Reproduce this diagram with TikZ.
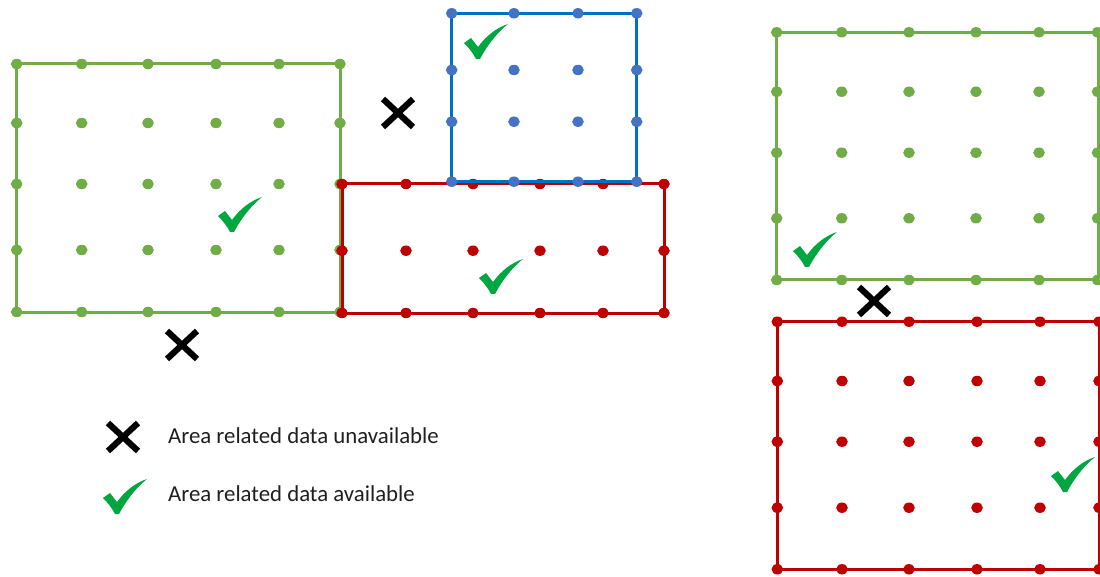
\documentclass[tikz,border=0pt]{standalone}
\usepackage{fontspec}
\setmainfont{Carlito}
\definecolor{grn}{HTML}{70AD47}
\definecolor{redc}{HTML}{C00000}
\definecolor{bluedot}{HTML}{4472C4}
\definecolor{blueline}{HTML}{0070C0}
\definecolor{tickc}{HTML}{00A640}
\tikzset{
  frame/.style={line width=3pt},
  checkmark/.pic={
    \fill[tickc] (-22,1) -- (-15,-4) -- (-8,5) .. controls (0,-6) and (10,-14) .. (22,-18)
      .. controls (12,-10) and (2,2) .. (-6,17) -- (-10,17) .. controls (-13,11) and (-17,6) .. (-22,1) -- cycle;
  },
  crossmark/.pic={
    \draw[line width=6.2pt] (-15,-14) -- (15,14) (-15,14) -- (15,-14);
  },
  legendtext/.style={anchor=base west, inner sep=0pt, font=\fontsize{22.8}{27}\selectfont, text=black!88}
}
\begin{document}
\begin{tikzpicture}[x=1pt,y=-1pt]
\useasboundingbox (0,0) rectangle (1100,577);
\clip (0,0) rectangle (1100,577);
% left green
\draw[grn,frame] (16.7,64) rectangle (340,312);
\foreach \x in {16.7,81.7,148,216,279,340}
  \foreach \y in {64,123,184,250,312}
    \fill[grn] (\x,\y) ellipse (5.8 and 5.2);
% red left
\draw[redc,frame] (342,184) rectangle (664,313);
\foreach \x in {342,406,473,540,603,664}
  \foreach \y in {184,250.7,313}
    \fill[redc] (\x,\y) ellipse (5.8 and 5.2);
% blue
\draw[blueline,frame] (451.7,13.3) rectangle (636.7,181.7);
\foreach \x in {451.7,514,578,636.7}
  \foreach \y in {13.3,70,121.7,181.7}
    \fill[bluedot] (\x,\y) ellipse (5.8 and 5.2);
% right green
\draw[grn,frame] (776.7,32.3) rectangle (1098.3,280);
\foreach \x in {776.7,841.7,909,976,1039,1097.5}
  \foreach \y in {32.3,91.7,152.7,218.3,280}
    \fill[grn] (\x,\y) ellipse (5.8 and 5.2);
% right red
\draw[redc,frame] (777.3,321.7) rectangle (1099,569.3);
\foreach \x in {777.3,842,909,977,1040,1099}
  \foreach \y in {321.7,381,441.7,507.7,569.3}
    \fill[redc] (\x,\y) ellipse (5.8 and 5.2);
% checks
\pic at (240,215) {checkmark};
\pic at (486,42) {checkmark};
\pic at (501,277) {checkmark};
\pic at (815,250) {checkmark};
\pic at (1073,475) {checkmark};
% crosses
\pic at (182,345) {crossmark};
\pic at (398,113) {crossmark};
\pic at (874,301) {crossmark};
% legend
\pic at (123,437) {crossmark};
\pic at (125,497) {checkmark};
\node[legendtext] (l1) at (168,443) {Area related data unavailable};
\node[legendtext] (l2) at (168,501.7) {Area related data available};
\end{tikzpicture}
\end{document}
